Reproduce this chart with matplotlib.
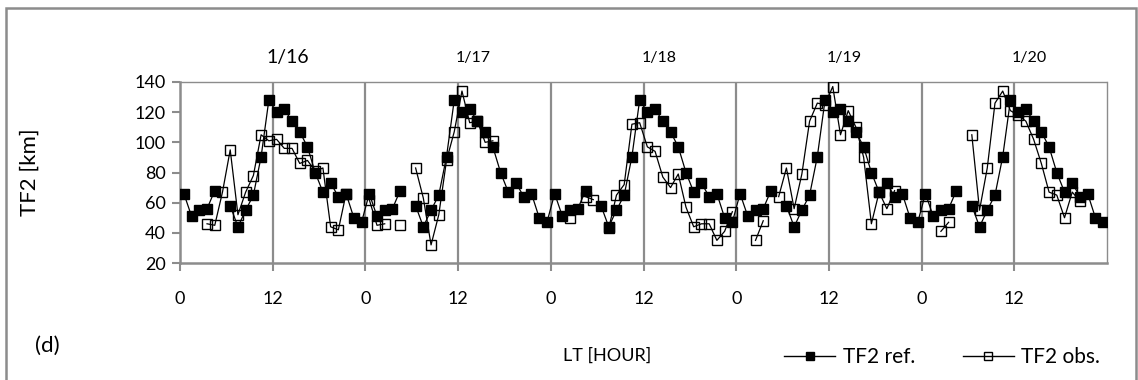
import numpy as np
import matplotlib
matplotlib.use("Agg")
import matplotlib.pyplot as plt
from matplotlib.lines import Line2D
from matplotlib.patches import Rectangle
from matplotlib.transforms import blended_transform_factory

plt.rcParams['font.family'] = ['Lato', 'DejaVu Sans']

nan = np.nan

# Hourly TF2 values [km], one list per day (LT 0..23)
dates = ["1/16", "1/17", "1/18", "1/19", "1/20"]

ref_d1 = [66, 51, 55, 56, 68, nan, 58, 44, 55, 65, 90.5, 128, 120, 122, 114, 107, 97, 80, 67, 73, 64, 66, 50, 47]
ref_d2 = [66, 51, 55, 56, 68, nan, 58, 44, 55, 65, 90.5, 128, 120, 122, 114, 107, 97, 80, 67, 73, 64, 66, 50, 47]
ref_d3 = [66, 51, 55, 56, 68, nan, 58, 44, 55, 65, 90.5, 128, 120, 122, 114, 107, 97, 80, 67, 73, 64, 66, 50, 47]
ref_d4 = [66, 51, 55, 56, 68, nan, 58, 44, 55, 65, 90.5, 128, 120, 122, 114, 107, 97, 80, 67, 73, 64, 66, 50, 47]
ref_d5 = [66, 51, 55, 56, 68, nan, 58, 44, 55, 65, 90.5, 128, 120, 122, 114, 107, 97, 80, 67, 73, 64, 66, 50, 47]

obs_d1 = [nan, nan, nan, 46, 45, 67, 95, 52, 67, 78, 105, 101, 102, 96, 96, 86, 88, 81, 83, 44, 42, 66, nan, nan]
obs_d2 = [62, 45, 46, nan, 45, nan, 83, 63, 32, 52, 88, 107, 134, 113, 114, 100, 101, nan, nan, nan, nan, nan, nan, nan]
obs_d3 = [nan, nan, 50, nan, 64, 62, nan, 43, 65, 72, 112, 113, 97, 94, 77, 70, 79, 57, 44, 46, 46, 35, 41, 54]
obs_d4 = [nan, nan, 35, 48, nan, 64, 83, 56, 79, 114, 126, 125, 137, 105, 121, 110, 90, 46, 67, 56, 68, nan, nan, nan]
obs_d5 = [58, nan, 41, 47, nan, nan, 105, 55, 83, 126, 134, 121, 118, 114, 102, 86, 67, 65, 50, 67, 61, nan, nan, nan]

tick_labels = ["0", "12"] * 5

ref = np.array(ref_d1 + ref_d2 + ref_d3 + ref_d4 + ref_d5, dtype=float)
obs = np.array(obs_d1 + obs_d2 + obs_d3 + obs_d4 + obs_d5, dtype=float)
hours = np.arange(len(ref)) + 0.5   # points centred in each hourly slot

W, H = 1138, 380
fig = plt.figure(figsize=(W / 100, H / 100), dpi=100)
ax = fig.add_axes([180 / W, 1 - 263 / H, (1107 - 180) / W, (263 - 82) / H])

gray = "#8c8c8c"

ax.plot(hours, obs, color="black", lw=0.9, marker="s", ms=7.5,
        mfc="none", mec="black", mew=1.0, zorder=3)
ax.plot(hours, ref, color="black", lw=0.9, marker="s", ms=7,
        mfc="black", mec="black", zorder=4)

ax.set_xlim(0, 120)
ax.set_ylim(20, 140)
ax.set_yticks(np.arange(20, 141, 20))
ax.set_xticks(np.arange(0, 120, 12))
ax.set_xticklabels(tick_labels)
for x in range(12, 120, 12):
    ax.axvline(x, color=gray, lw=1.6, zorder=1)

for side in ("left", "bottom"):
    ax.spines[side].set_color(gray)
    ax.spines[side].set_linewidth(1.8)
for side in ("top", "right"):
    ax.spines[side].set_color(gray)
    ax.spines[side].set_linewidth(1.0)
    ax.spines[side].set_linestyle((0, (1, 1)))

ax.tick_params(axis="y", direction="out", length=6, width=1.5, color=gray,
               labelsize=13, pad=4)
ax.tick_params(axis="x", direction="out", length=6, width=1.5, color=gray,
               labelsize=13, pad=14)

fig.text(30 / W, 1 - 172 / H, "TF2 [km]", rotation=90, fontsize=16,
         ha="center", va="center")

# Date labels above each day
trans = blended_transform_factory(ax.transData, ax.transAxes)
for k, d in enumerate(dates):
    ax.text(24 * k + 14, 1.135, d, transform=trans, ha="center", va="center",
            fontsize=14 if k == 0 else 11.5)

fig.text(35 / W, 1 - 346 / H, "(d)", fontsize=16, va="center", ha="left")
fig.text(607 / W, 1 - 356 / H, "LT [HOUR]", fontsize=13, va="center", ha="center")

handles = [
    Line2D([], [], color="black", lw=1.0, marker="s", ms=5.5, mfc="black", mec="black"),
    Line2D([], [], color="black", lw=1.0, marker="s", ms=5.5, mfc="none", mec="black"),
]
fig.legend(handles, ["TF2 ref.", "TF2 obs."], loc="center right", ncol=2,
           bbox_to_anchor=(1100 / W, 1 - 357 / H), frameon=False, fontsize=15,
           borderaxespad=0, borderpad=0,
           handlelength=2.45, handletextpad=0.35, columnspacing=2.3)

fig.patches.append(Rectangle((6 / W, -0.05), (1136 - 6) / W, 1 - 8 / H + 0.05,
                             transform=fig.transFigure, fill=False,
                             edgecolor=gray, lw=1.8))

fig.savefig("out.png", dpi=100)
